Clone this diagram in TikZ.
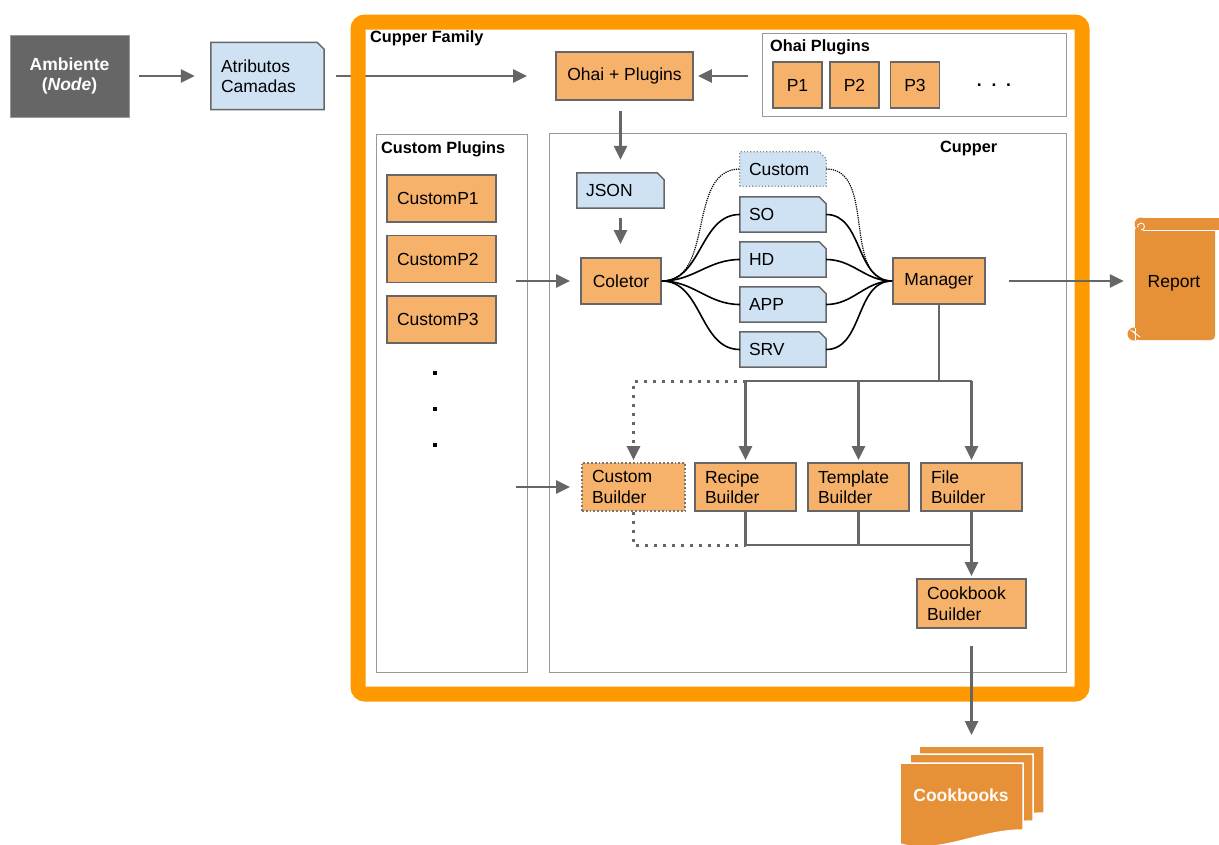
\documentclass[tikz,border=0pt]{standalone}
\usepackage{fontspec}
\setmainfont{Liberation Sans}
\usetikzlibrary{arrows.meta,calc}
\pgfdeclarelayer{bottom}
\pgfdeclarelayer{back}
\pgfdeclarelayer{mid}
\pgfsetlayers{bottom,back,mid,main}
\definecolor{boxor}{HTML}{F6B26B}
\definecolor{boxbl}{HTML}{CFE2F3}
\definecolor{gr}{HTML}{666666}
\definecolor{frameor}{HTML}{FF9900}
\definecolor{docor}{HTML}{E69138}
\definecolor{lg}{HTML}{999999}
\newcommand\fs{\fontsize{17.5}{20.5}\selectfont}
\newcommand\lfs{\fontsize{16.3}{19}\selectfont\bfseries}
\newcommand\docpath[2]{%
  \begin{pgfonlayer}{mid}
  \path[#1] (#2.south west) -- (#2.north west) -- ([xshift=-7pt]#2.north east)
     -- ([yshift=-7pt]#2.north east) -- (#2.south east) -- cycle;
  \end{pgfonlayer}}
\newcommand\sheet[4]{%
  \filldraw[fill=docor, draw=white, line width=1.5pt] (#1,#2) -- (#3,#2) -- (#3,#4)
    .. controls (#3-45,#4) and (#1+40,#4+25) .. (#1,#4+14) -- cycle;}
\tikzset{
  obox/.style={draw=gr, line width=1.8pt, fill=boxor, inner sep=0pt, font=\fs},
  lbox/.style={obox, align=left, inner xsep=10pt, inner ysep=0pt},
  docnode/.style={inner xsep=9pt, inner ysep=0pt, font=\fs, align=left},
  docshape/.style={fill=boxbl, draw=gr, line width=1.5pt},
  docdot/.style={fill=boxbl, draw=gr!80, dotted, line width=1.2pt},
  container/.style={draw=lg, line width=1pt, fill=white, inner sep=0pt},
  lbl/.style={font=\lfs, inner sep=0pt, anchor=base west},
  arr/.style={draw=gr, line width=2.5pt, -{Triangle[length=14pt,width=13pt]}},
  line/.style={draw=gr, line width=2.5pt},
  dotarr/.style={draw=gr, line width=3pt, dash pattern=on 3pt off 6pt, -{Triangle[length=14pt,width=13pt]}},
  dotline/.style={draw=gr, line width=3pt, dash pattern=on 3pt off 6pt},
  curve/.style={draw=black, line width=1.6pt},
  dcurve/.style={draw=black, line width=1.2pt, densely dotted},
}
\begin{document}
\begin{tikzpicture}[x=1pt,y=-1pt]
\useasboundingbox (0,0) rectangle (1219,844);
\begin{pgfonlayer}{bottom}
\fill[white] (0,0) rectangle (1219,844);
\end{pgfonlayer}

% outer frame
\begin{pgfonlayer}{back}
\draw[frameor, line width=15pt, rounded corners=7pt] (358,22) rectangle (1082,694);
\end{pgfonlayer}

% containers
\begin{pgfonlayer}{back}
\node[container, minimum width=304pt, minimum height=83pt] (ohaibox) at (914,74.5) {};
\node[container, minimum width=151pt, minimum height=538pt] (custplug) at (451.5,403) {};
\node[container, minimum width=517pt, minimum height=539pt] (cupper) at (807.5,402.5) {};
\end{pgfonlayer}
\node[lbl] (lfam) at (370,42) {Cupper Family};
\node[lbl] (lohai) at (770,51) {Ohai Plugins};
\node[lbl] (lcust) at (381,153) {Custom Plugins};
\node[lbl] (lcup) at (940,152) {Cupper};

% left chain
\node[fill=gr, draw=lg, line width=0.6pt, minimum width=119pt, minimum height=82pt, text=white,
      font=\fs\bfseries, align=center] (amb) at (69.5,76) {Ambiente\\(\textit{Node})};
\node[docnode, text width=93pt, minimum height=67pt, inner xsep=10pt] (attr) at (267.5,76) {Atributos\\Camadas};
\docpath{docshape}{attr}

\node[obox, minimum width=137pt, minimum height=48pt] (ohai) at (624.5,76) {Ohai + Plugins};
\node[obox, minimum width=49pt, minimum height=46pt] (p1) at (797.5,85) {P1};
\node[obox, minimum width=49pt, minimum height=46pt] (p2) at (854.5,85) {P2};
\node[obox, minimum width=49pt, minimum height=46pt] (p3) at (915,85) {P3};
\node[font=\fs\bfseries, inner sep=0pt] (pdots) at (994,85) {.\ \ .\ \ .};

% custom plugins
\node[lbox, text width=89pt, minimum height=47pt] (cp1) at (441.5,198.5) {CustomP1};
\node[lbox, text width=89pt, minimum height=47pt] (cp2) at (441.5,259) {CustomP2};
\node[lbox, text width=89pt, minimum height=47pt] (cp3) at (441.5,319.5) {CustomP3};
\node[fill=black, minimum size=3.5pt, inner sep=0pt] (d1) at (435,373) {};
\node[fill=black, minimum size=3.5pt, inner sep=0pt] (d2) at (435,409) {};
\node[fill=black, minimum size=3.5pt, inner sep=0pt] (d3) at (435,445) {};

% cupper inner
\node[docnode, text width=69pt, minimum height=35pt] (json) at (620.5,190.5) {JSON};
\docpath{docshape}{json}
\node[obox, minimum width=80pt, minimum height=46pt] (coletor) at (621,281) {Coletor};
\node[obox, minimum width=92pt, minimum height=46pt] (manager) at (939,281) {Manager};
\node[docnode, text width=68pt, minimum height=34pt] (custom) at (783,169) {Custom};
\docpath{docdot}{custom}
\node[docnode, text width=68pt, minimum height=35pt] (so) at (783,214.5) {SO};
\docpath{docshape}{so}
\node[docnode, text width=68pt, minimum height=35pt] (hd) at (783,259.5) {HD};
\docpath{docshape}{hd}
\node[docnode, text width=68pt, minimum height=35pt] (app) at (783,304.5) {APP};
\docpath{docshape}{app}
\node[docnode, text width=68pt, minimum height=35pt] (srv) at (783,349.5) {SRV};
\docpath{docshape}{srv}

\node[lbox, text width=83pt, minimum height=48pt, draw=gr!90, dotted] (cb) at (633.5,487) {Custom\\Builder};
\node[lbox, text width=81pt, minimum height=48pt] (rb) at (745.5,487) {Recipe\\Builder};
\node[lbox, text width=81pt, minimum height=48pt] (tb) at (858.5,487) {Template\\Builder};
\node[lbox, text width=81pt, minimum height=48pt] (fb) at (971.5,487) {File\\Builder};
\node[lbox, text width=89pt, minimum height=49pt] (cookb) at (971.5,603.5) {Cookbook\\Builder};

% report scroll
\begin{pgfonlayer}{mid}
\fill[docor, rounded corners=4pt] (1135,226) rectangle (1215,340);
\fill[docor] (1141,218) rectangle (1219,230);
\fill[docor] (1141,224) circle (6.5);
\draw[white, line width=1pt] (1143,230) -- (1219,230);
\draw[white, line width=0.9pt] (1141,230) arc (90:-200:3.5);
\fill[docor] (1134,334) circle (6.5);
\draw[white, line width=0.9pt] (1135,340) -- (1135,328);
\draw[white, line width=0.9pt] (1135,334) arc (0:-90:3) -- (1140,337);
\end{pgfonlayer}
\node[font=\fs, inner sep=0pt, minimum width=84pt, minimum height=40pt] (rep) at (1174,283) {Report};

% cookbooks
\begin{pgfonlayer}{mid}
\sheet{919}{746}{1044}{813}
\sheet{910}{754}{1033}{821}
\sheet{900}{763}{1023}{830}
\end{pgfonlayer}
\node[font=\fs\bfseries, text=white!95!docor, inner sep=0pt] (cooks) at (961,795) {Cookbooks};

% connectors
\draw[arr, shorten <=10pt, shorten >=16pt] (amb.east) -- (attr.west);
\begin{pgfonlayer}{bottom}
\draw[arr, shorten <=12pt, shorten >=28pt] (attr.east |- ohai.west) -- (ohai.west);
\end{pgfonlayer}
\draw[arr, shorten <=14pt, shorten >=4pt] (ohaibox.west |- ohai.east) -- (ohai.east);
\draw[arr, shorten <=10pt, shorten >=13pt] (json.north |- ohai.south) -- (json.north);
\draw[arr, shorten <=10pt, shorten >=13pt] (json.south) -- (json.south |- coletor.north);
\coordinate (cpin) at (516,281);
\draw[arr, shorten >=10pt] (cpin) -- (coletor.west);
\coordinate (cbin) at (516,487);
\draw[arr, shorten >=11pt] (cbin) -- (cb.west);

\draw[dcurve] (coletor.east) to[out=0,in=180] (custom.west);
\draw[dcurve] (custom.east) to[out=0,in=180] (manager.west);
\foreach \d in {so,hd,app,srv}{
  \draw[curve] (coletor.east) to[out=0,in=180] (\d.west);
  \draw[curve] (\d.east) to[out=0,in=180] (manager.west);
}

\draw[arr, shorten <=23pt, shorten >=8pt] (manager.east) -- (rep.west |- manager.east);

\coordinate (bus) at (939,381);
\coordinate (low) at (971.5,545);
\draw[line] (manager.south) -- (bus);
\draw[line] (rb.north |- bus) -- (fb.north |- bus);
\draw[arr, shorten >=2pt] (rb.north |- bus) -- (rb.north);
\draw[arr, shorten >=2pt] (tb.north |- bus) -- (tb.north);
\draw[arr, shorten >=2pt] (fb.north |- bus) -- (fb.north);
\draw[dotarr, shorten >=2pt] (rb.north |- bus) -- (cb.north |- bus) -- (cb.north);

\draw[line] (rb.south) -- (rb.south |- low) -- (low);
\draw[line] (tb.south) -- (tb.south |- low);
\draw[dotline] (cb.south) -- (cb.south |- low) -- (rb.south |- low);
\draw[arr, shorten >=2pt] (fb.south) -- (cookb.north);
\coordinate (cbtop) at (971.5,735);
\draw[arr, shorten <=17pt] (cookb.south) -- (cbtop);
\end{tikzpicture}
\end{document}
